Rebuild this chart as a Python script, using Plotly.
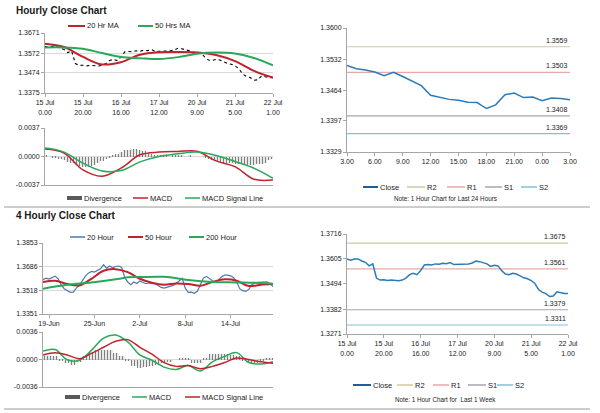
import plotly.graph_objects as go

# ---------------- DATA ----------------
# Hourly (1 week) close, sampled every 2 hours, hour index 0..120
hours_1w = list(range(0, 121, 2))
close_1w = [1.3605, 1.3599, 1.3605, 1.3605, 1.3596, 1.3590, 1.3574, 1.3583, 1.3520, 1.3511,
            1.3512, 1.3509, 1.3511, 1.3509, 1.3508, 1.3511, 1.3520, 1.3535, 1.3541, 1.3535,
            1.3553, 1.3578, 1.3580, 1.3578, 1.3583, 1.3581, 1.3586, 1.3584, 1.3589, 1.3580,
            1.3581, 1.3580, 1.3583, 1.3583, 1.3587, 1.3596, 1.3593, 1.3587, 1.3583, 1.3572,
            1.3577, 1.3574, 1.3553, 1.3538, 1.3535, 1.3541, 1.3538, 1.3530, 1.3521, 1.3517,
            1.3509, 1.3496, 1.3469, 1.3457, 1.3451, 1.3438, 1.3440, 1.3459, 1.3454, 1.3451, 1.3451]
ma_hours = list(range(0, 121, 10))
ma20_1h = [1.3618, 1.3602, 1.3553, 1.3516, 1.3527, 1.3564, 1.3576, 1.3577, 1.3575, 1.3562, 1.3532, 1.3484, 1.3451]
ma50_1h = [1.3600, 1.3600, 1.3593, 1.3572, 1.3553, 1.3547, 1.3543, 1.3552, 1.3569, 1.3575, 1.3570, 1.3548, 1.3511]
week_ticks = [0, 20, 40, 60, 80, 100, 120]
week_labels = ["15 Jul<br>0.00", "15 Jul<br>20.00", "16 Jul<br>16.00", "17 Jul<br>12.00",
               "20 Jul<br>9.00", "21 Jul<br>5.00", "22 Jul<br>1.00"]

# Hourly MACD
macd_1h = [0.00096, 0.00044, -0.00174, -0.00257, -0.00152, 0.00022, 0.00057, 0.00065, 0.00068,
           -0.00057, -0.00131, -0.00296, -0.00305]
signal_1h = [0.00109, 0.00057, -0.00087, -0.00187, -0.00183, -0.00070, 0.00000, 0.00035, 0.00057,
             0.00013, -0.00065, -0.00152, -0.00283]
div_1h = [0.0001, 0.0000, -0.0001, -0.0002, -0.0003, -0.0005, -0.0007, -0.0009, -0.0011, -0.0012,
          -0.0013, -0.0013, -0.0012, -0.0011, -0.0008, -0.0006, -0.0003, -0.0001, 0.0001, 0.0003,
          0.0006, 0.0008, 0.0009, 0.0010, 0.0010, 0.0009, 0.0007, 0.0005, 0.0003, 0.0002,
          0.0001, 0.0001, 0.0001, 0.0000, 0.0001, 0.0001, 0.0001, 0.0000, 0.0001, 0.0000,
          0.0000, -0.0000, -0.0002, -0.0003, -0.0004, -0.0006, -0.0007, -0.0008, -0.0009, -0.0009,
          -0.0010, -0.0010, -0.0010, -0.0011, -0.0011, -0.0011, -0.0010, -0.0010, -0.0008, -0.0005, -0.0003]

# Last 24 hours close
hours_24 = list(range(0, 25))
close_24 = [1.3518, 1.3511, 1.3508, 1.3504, 1.3496, 1.3503, 1.3494, 1.3484, 1.3474, 1.3453,
            1.3449, 1.3444, 1.3442, 1.3438, 1.3437, 1.3424, 1.3432, 1.3454, 1.3458, 1.3448,
            1.3449, 1.3441, 1.3447, 1.3446, 1.3443]
ticks_24 = [0, 3, 6, 9, 12, 15, 18, 21, 24]
labels_24 = ["3.00", "6.00", "9.00", "12.00", "15.00", "18.00", "21.00", "0.00", "3.00"]
levels_24 = {"R2": 1.3559, "R1": 1.3503, "S1": 1.3408, "S2": 1.3369}
levels_1w = {"R2": 1.3675, "R1": 1.3561, "S1": 1.3379, "S2": 1.3311}

# 4-hourly chart (index of 4h bars, sampled)
idx_4h = list(range(0, 77))
ma20_4h = [1.3593, 1.3605, 1.3598, 1.3610, 1.3619, 1.3600, 1.3558, 1.3530, 1.3516, 1.3504,
           1.3506, 1.3534, 1.3553, 1.3586, 1.3619, 1.3640, 1.3652, 1.3647, 1.3659, 1.3671,
           1.3699, 1.3675, 1.3690, 1.3678, 1.3687, 1.3690, 1.3680, 1.3610, 1.3577, 1.3558,
           1.3577, 1.3567, 1.3584, 1.3574, 1.3565, 1.3570, 1.3565, 1.3567, 1.3556, 1.3539,
           1.3534, 1.3541, 1.3544, 1.3553, 1.3567, 1.3586, 1.3603, 1.3534, 1.3504, 1.3506,
           1.3497, 1.3511, 1.3563, 1.3605, 1.3617, 1.3600, 1.3586, 1.3577, 1.3591, 1.3614,
           1.3626, 1.3626, 1.3621, 1.3607, 1.3577, 1.3530, 1.3516, 1.3511, 1.3525, 1.3558,
           1.3570, 1.3574, 1.3577, 1.3577, 1.3579, 1.3567, 1.3544]
idx_50 = list(range(0, 77, 4))
ma50_4h = [1.3577, 1.3586, 1.3563, 1.3553, 1.3600, 1.3657, 1.3668, 1.3647, 1.3600, 1.3572,
           1.3558, 1.3567, 1.3563, 1.3551, 1.3577, 1.3596, 1.3586, 1.3549, 1.3558, 1.3563]
idx_200 = [0, 8, 16, 24, 28, 32, 40, 48, 56, 64, 72, 76]
ma200_4h = [1.3530, 1.3558, 1.3574, 1.3596, 1.3610, 1.3612, 1.3614, 1.3591, 1.3577, 1.3574, 1.3570, 1.3565]
ticks_4h = [2, 17, 32, 47, 62]
labels_4h = ["19-Jun", "25-Jun", "2-Jul", "8-Jul", "14-Jul"]

# 4-hourly MACD
macd_4h = [0.0011, 0.0013, -0.00004, -0.0001, 0.0012, 0.0028, 0.0032, 0.0023, 0.0006, -0.0001,
           -0.0010, -0.0013, -0.0008, -0.0015, -0.0003, 0.0004, 0.0009, -0.0004, -0.0006, -0.0003]
signal_4h = [0.0006, 0.0009, 0.0006, 0.0001, 0.0008, 0.0016, 0.0024, 0.0026, 0.0016, 0.0007,
             -0.0004, -0.0009, -0.0008, -0.0012, -0.0009, -0.0004, 0.0002, 0.0000, -0.0003, -0.0005]
idx_div = list(range(0, 77, 2))
div_4h = [0.0004, 0.0005, 0.0004, -0.0001, -0.0005, -0.0007, -0.0003, 0.0004, 0.0010, 0.0012,
          0.0013, 0.0012, 0.0009, 0.0005, -0.0002, -0.0009, -0.0011, -0.0010, -0.0009, -0.0007,
          -0.0005, -0.0003, 0.0000, 0.0002, 0.0001, -0.0004, -0.0005, 0.0002, 0.0007, 0.0007,
          0.0007, 0.0006, 0.0004, -0.0002, -0.0005, -0.0004, -0.0001, 0.0001, 0.0001]

# ---------------- STYLE ----------------
W, H = 600, 413
FONT = "Liberation Sans, Arial, sans-serif"
TXT = "#1a1a1a"
RED = "#c0232b"
GREEN = "#2aa85a"
BLUE20 = "#4f79b0"
CLOSE = "#2b7bba"
LVL_COL = {"R2": "#cdc9a2", "R1": "#e8a9a9", "S1": "#a9a3b3", "S2": "#7cc3dc"}
GRAY_DIV = "#7f7f7f"
AXC = "#a6a6a6"
GRID = "#d9d9d9"
FS = 7


def fx(p):
    return p / W


def fy(p):
    return 1 - p / H


fig = go.Figure()

# --- Top-left: hourly price ---
fig.add_trace(go.Scatter(x=hours_1w, y=close_1w, xaxis="x", yaxis="y", mode="lines",
                         line=dict(color="black", width=1.1, dash="dot"), name="Close", showlegend=False))
fig.add_trace(go.Scatter(x=ma_hours, y=ma20_1h, xaxis="x", yaxis="y", mode="lines",
                         line=dict(color=RED, width=2, shape="spline"), name="20 Hr MA", showlegend=False))
fig.add_trace(go.Scatter(x=ma_hours, y=ma50_1h, xaxis="x", yaxis="y", mode="lines",
                         line=dict(color=GREEN, width=2, shape="spline"), name="50 Hrs MA", showlegend=False))

# --- Top-left MACD ---
bar_style = dict(color=GRAY_DIV, line=dict(width=0),
                 pattern=dict(shape="|", size=3, solidity=0.45, fgcolor=GRAY_DIV,
                              bgcolor="rgba(255,255,255,0)", fillmode="replace"))
fig.add_trace(go.Bar(x=hours_1w, y=div_1h, xaxis="x2", yaxis="y2", marker=bar_style,
                     name="Divergence", showlegend=False))
fig.add_trace(go.Scatter(x=ma_hours, y=macd_1h, xaxis="x2", yaxis="y2", mode="lines",
                         line=dict(color=RED, width=1.5, shape="spline"), name="MACD", showlegend=False))
fig.add_trace(go.Scatter(x=ma_hours, y=signal_1h, xaxis="x2", yaxis="y2", mode="lines",
                         line=dict(color=GREEN, width=1.5, shape="spline"), name="MACD Signal Line",
                         showlegend=False))

# --- Top-right: last 24 hours ---
for k, v in levels_24.items():
    fig.add_trace(go.Scatter(x=[hours_24[0], hours_24[-1]], y=[v, v], xaxis="x3", yaxis="y3",
                             mode="lines", line=dict(color=LVL_COL[k], width=1.2), name=k, showlegend=False))
fig.add_trace(go.Scatter(x=hours_24, y=close_24, xaxis="x3", yaxis="y3", mode="lines",
                         line=dict(color=CLOSE, width=1.5), name="Close", showlegend=False))

# --- Bottom-left: 4 hourly ---
fig.add_trace(go.Scatter(x=idx_4h, y=ma20_4h, xaxis="x4", yaxis="y4", mode="lines",
                         line=dict(color=BLUE20, width=1.2), name="20 Hour", showlegend=False))
fig.add_trace(go.Scatter(x=idx_50, y=ma50_4h, xaxis="x4", yaxis="y4", mode="lines",
                         line=dict(color=RED, width=2, shape="spline"), name="50 Hour", showlegend=False))
fig.add_trace(go.Scatter(x=idx_200, y=ma200_4h, xaxis="x4", yaxis="y4", mode="lines",
                         line=dict(color=GREEN, width=2, shape="spline"), name="200 Hour", showlegend=False))

# --- Bottom-left MACD ---
fig.add_trace(go.Bar(x=idx_div, y=div_4h, xaxis="x5", yaxis="y5", marker=bar_style,
                     name="Divergence", showlegend=False))
fig.add_trace(go.Scatter(x=idx_50, y=macd_4h, xaxis="x5", yaxis="y5", mode="lines",
                         line=dict(color=GREEN, width=1.5, shape="spline"), name="MACD", showlegend=False))
fig.add_trace(go.Scatter(x=idx_50, y=signal_4h, xaxis="x5", yaxis="y5", mode="lines",
                         line=dict(color=RED, width=1.5, shape="spline"), name="MACD Signal Line",
                         showlegend=False))

# --- Bottom-right: last week ---
for k, v in levels_1w.items():
    fig.add_trace(go.Scatter(x=[hours_1w[0], hours_1w[-1]], y=[v, v], xaxis="x6", yaxis="y6",
                             mode="lines", line=dict(color=LVL_COL[k], width=1.2), name=k, showlegend=False))
fig.add_trace(go.Scatter(x=hours_1w, y=close_1w, xaxis="x6", yaxis="y6", mode="lines",
                         line=dict(color=CLOSE, width=1.5), name="Close", showlegend=False))

# ---------------- AXES ----------------
tickfont = dict(size=FS, color=TXT, family=FONT)


def xax(d0, d1, rng, anchor, tickvals=None, ticktext=None):
    a = dict(domain=[fx(d0), fx(d1)], range=rng, anchor=anchor, showline=True, linecolor=AXC,
             linewidth=1, showgrid=False, zeroline=False, tickfont=tickfont, fixedrange=True,
             automargin=False)
    if tickvals is None:
        a.update(showticklabels=False, ticks="")
    else:
        a.update(tickmode="array", tickvals=tickvals, ticktext=ticktext, ticks="outside",
                 ticklen=3, tickcolor=AXC)
    return a


def yax(top, bot, rng, anchor, tickvals, ticktext, grid=True):
    return dict(domain=[fy(bot), fy(top)], range=rng, anchor=anchor, showline=True, linecolor=AXC,
                linewidth=1, showgrid=grid, gridcolor=GRID, gridwidth=1, zeroline=False,
                tickmode="array", tickvals=tickvals, ticktext=ticktext, ticks="outside",
                ticklen=3, tickcolor=AXC, tickfont=tickfont, fixedrange=True, automargin=False)


def lbl(vals, fmt="{:.4f}"):
    return [fmt.format(v).replace("\u2212", "-") for v in vals]


y1_t = [1.3375, 1.3474, 1.3572, 1.3671]
y2_t = [-0.0037, 0.0, 0.0037]
y3_t = [1.3329, 1.3397, 1.3464, 1.3532, 1.3600]
y4_t = [1.3351, 1.3518, 1.3686, 1.3853]
y5_t = [-0.0036, 0.0, 0.0036]
y6_t = [1.3271, 1.3382, 1.3494, 1.3605, 1.3716]

layout_axes = dict(
    xaxis=xax(45, 273, [hours_1w[0], hours_1w[-1]], "y", week_ticks, week_labels),
    yaxis=yax(33, 93, [y1_t[0], y1_t[-1]], "x", y1_t, lbl(y1_t)),
    xaxis2=xax(45, 273, [hours_1w[0], hours_1w[-1]], "y2"),
    yaxis2=yax(128, 185, [y2_t[0], y2_t[-1]], "x2", y2_t, lbl(y2_t)),
    xaxis3=xax(347, 570, [hours_24[0], hours_24[-1]], "y3", ticks_24, labels_24),
    yaxis3=yax(28, 152, [y3_t[0], y3_t[-1]], "x3", y3_t, lbl(y3_t), grid=False),
    xaxis4=xax(43, 273, [idx_4h[0], idx_4h[-1]], "y4", ticks_4h, labels_4h),
    yaxis4=yax(243, 314, [y4_t[0], y4_t[-1]], "x4", y4_t, lbl(y4_t)),
    xaxis5=xax(43, 273, [idx_4h[0], idx_4h[-1]], "y5"),
    yaxis5=yax(332, 387, [y5_t[0], y5_t[-1]], "x5", y5_t, lbl(y5_t)),
    xaxis6=xax(347, 568, [hours_1w[0], hours_1w[-1]], "y6", week_ticks, week_labels),
    yaxis6=yax(234, 334, [y6_t[0], y6_t[-1]], "x6", y6_t, lbl(y6_t), grid=False),
)

# ---------------- ANNOTATIONS / LEGENDS ----------------
annotations = []
shapes = []


def text(x, y, s, size=FS, bold=False, anchor="left"):
    annotations.append(dict(x=fx(x), y=fy(y), xref="paper", yref="paper", text=(f"<b>{s}</b>" if bold else s),
                            showarrow=False, xanchor=anchor, yanchor="middle",
                            font=dict(size=size, color=TXT, family=FONT)))


def leg_line(x0, x1, y, color, width=2):
    shapes.append(dict(type="line", xref="paper", yref="paper", x0=fx(x0), x1=fx(x1), y0=fy(y), y1=fy(y),
                       line=dict(color=color, width=width)))


def leg_rect(x0, x1, y, color):
    shapes.append(dict(type="rect", xref="paper", yref="paper", x0=fx(x0), x1=fx(x1), y0=fy(y + 2),
                       y1=fy(y - 2), fillcolor=color, line=dict(width=0)))


# Titles
text(14, 10, "Hourly Close Chart", size=10, bold=True)
text(14, 215, "4 Hourly Close Chart", size=10, bold=True)

# Top-left legend
leg_line(68, 85, 26, RED); text(85, 26, "20 Hr MA", size=7.5)
leg_line(138, 153, 26, GREEN); text(153, 26, "50 Hrs MA", size=7.5)
# Top-left MACD legend
leg_rect(67, 82, 198, "#595959"); text(82, 198, "Divergence", size=7.5)
leg_line(133, 148, 198, RED, 1.5); text(148, 198, "MACD", size=7.5)
leg_line(185, 200, 198, GREEN, 1.5); text(200, 198, "MACD Signal Line", size=7.5)
# Top-right legend
leg_line(363, 378, 187, "#1f5f99", 2); text(378, 187, "Close", size=7.5)
leg_line(407, 425, 187, LVL_COL["R2"], 1.5); text(425, 187, "R2", size=7.5)
leg_line(447, 465, 187, LVL_COL["R1"], 1.5); text(465, 187, "R1", size=7.5)
leg_line(485, 502, 187, LVL_COL["S1"], 1.5); text(502, 187, "S1", size=7.5)
leg_line(521, 537, 187, LVL_COL["S2"], 1.5); text(537, 187, "S2", size=7.5)
text(445, 199, "Note: 1 Hour Chart for Last 24 Hours", size=6.3, anchor="center")
# Bottom-left legend
leg_line(70, 85, 237, BLUE20, 1.5); text(85, 237, "20 Hour", size=7.5)
leg_line(128, 143, 237, RED); text(143, 237, "50 Hour", size=7.5)
leg_line(189, 204, 237, GREEN); text(204, 237, "200 Hour", size=7.5)
# Bottom-left MACD legend
leg_rect(65, 80, 397, "#595959"); text(80, 397, "Divergence", size=7.5)
leg_line(132, 147, 397, GREEN, 1.5); text(147, 397, "MACD", size=7.5)
leg_line(185, 200, 397, RED, 1.5); text(200, 397, "MACD Signal Line", size=7.5)
# Bottom-right legend
leg_line(353, 371, 385, "#1f5f99", 2); text(371, 385, "Close", size=7.5)
leg_line(397, 413, 385, LVL_COL["R2"], 1.5); text(413, 385, "R2", size=7.5)
leg_line(433, 449, 385, LVL_COL["R1"], 1.5); text(449, 385, "R1", size=7.5)
leg_line(468, 486, 385, LVL_COL["S1"], 1.5); text(486, 385, "S1", size=7.5)
leg_line(497, 513, 385, LVL_COL["S2"], 1.5); text(513, 385, "S2", size=7.5)
text(445, 399, "Note: 1 Hour Chart for  Last 1 Week", size=6.3, anchor="center")

# Level labels
for k, v in levels_24.items():
    annotations.append(dict(x=hours_24[-1], y=v, xref="x3", yref="y3", text=f"{v:.4f}", showarrow=False,
                            xanchor="right", yanchor="bottom", yshift=1,
                            font=dict(size=FS, color=TXT, family=FONT)))
for k, v in levels_1w.items():
    annotations.append(dict(x=hours_1w[-1], y=v, xref="x6", yref="y6", text=f"{v:.4f}", showarrow=False,
                            xanchor="right", yanchor="bottom", yshift=1,
                            font=dict(size=FS, color=TXT, family=FONT)))

# Separators
for yy in (207, 409):
    shapes.append(dict(type="line", xref="paper", yref="paper", x0=fx(4), x1=fx(590), y0=fy(yy), y1=fy(yy),
                       line=dict(color="#9a9a9a", width=1)))

fig.update_layout(
    template="none",
    width=W, height=H, autosize=False,
    margin=dict(l=0, r=0, t=0, b=0, pad=0),
    paper_bgcolor="white", plot_bgcolor="white",
    showlegend=False, bargap=0,
    font=dict(family=FONT, color=TXT, size=FS),
    annotations=annotations, shapes=shapes,
    **layout_axes,
)

fig.write_html("out.html", config={"displayModeBar": False},
               post_script="document.body.style.margin='0';document.body.style.overflow='hidden';")
